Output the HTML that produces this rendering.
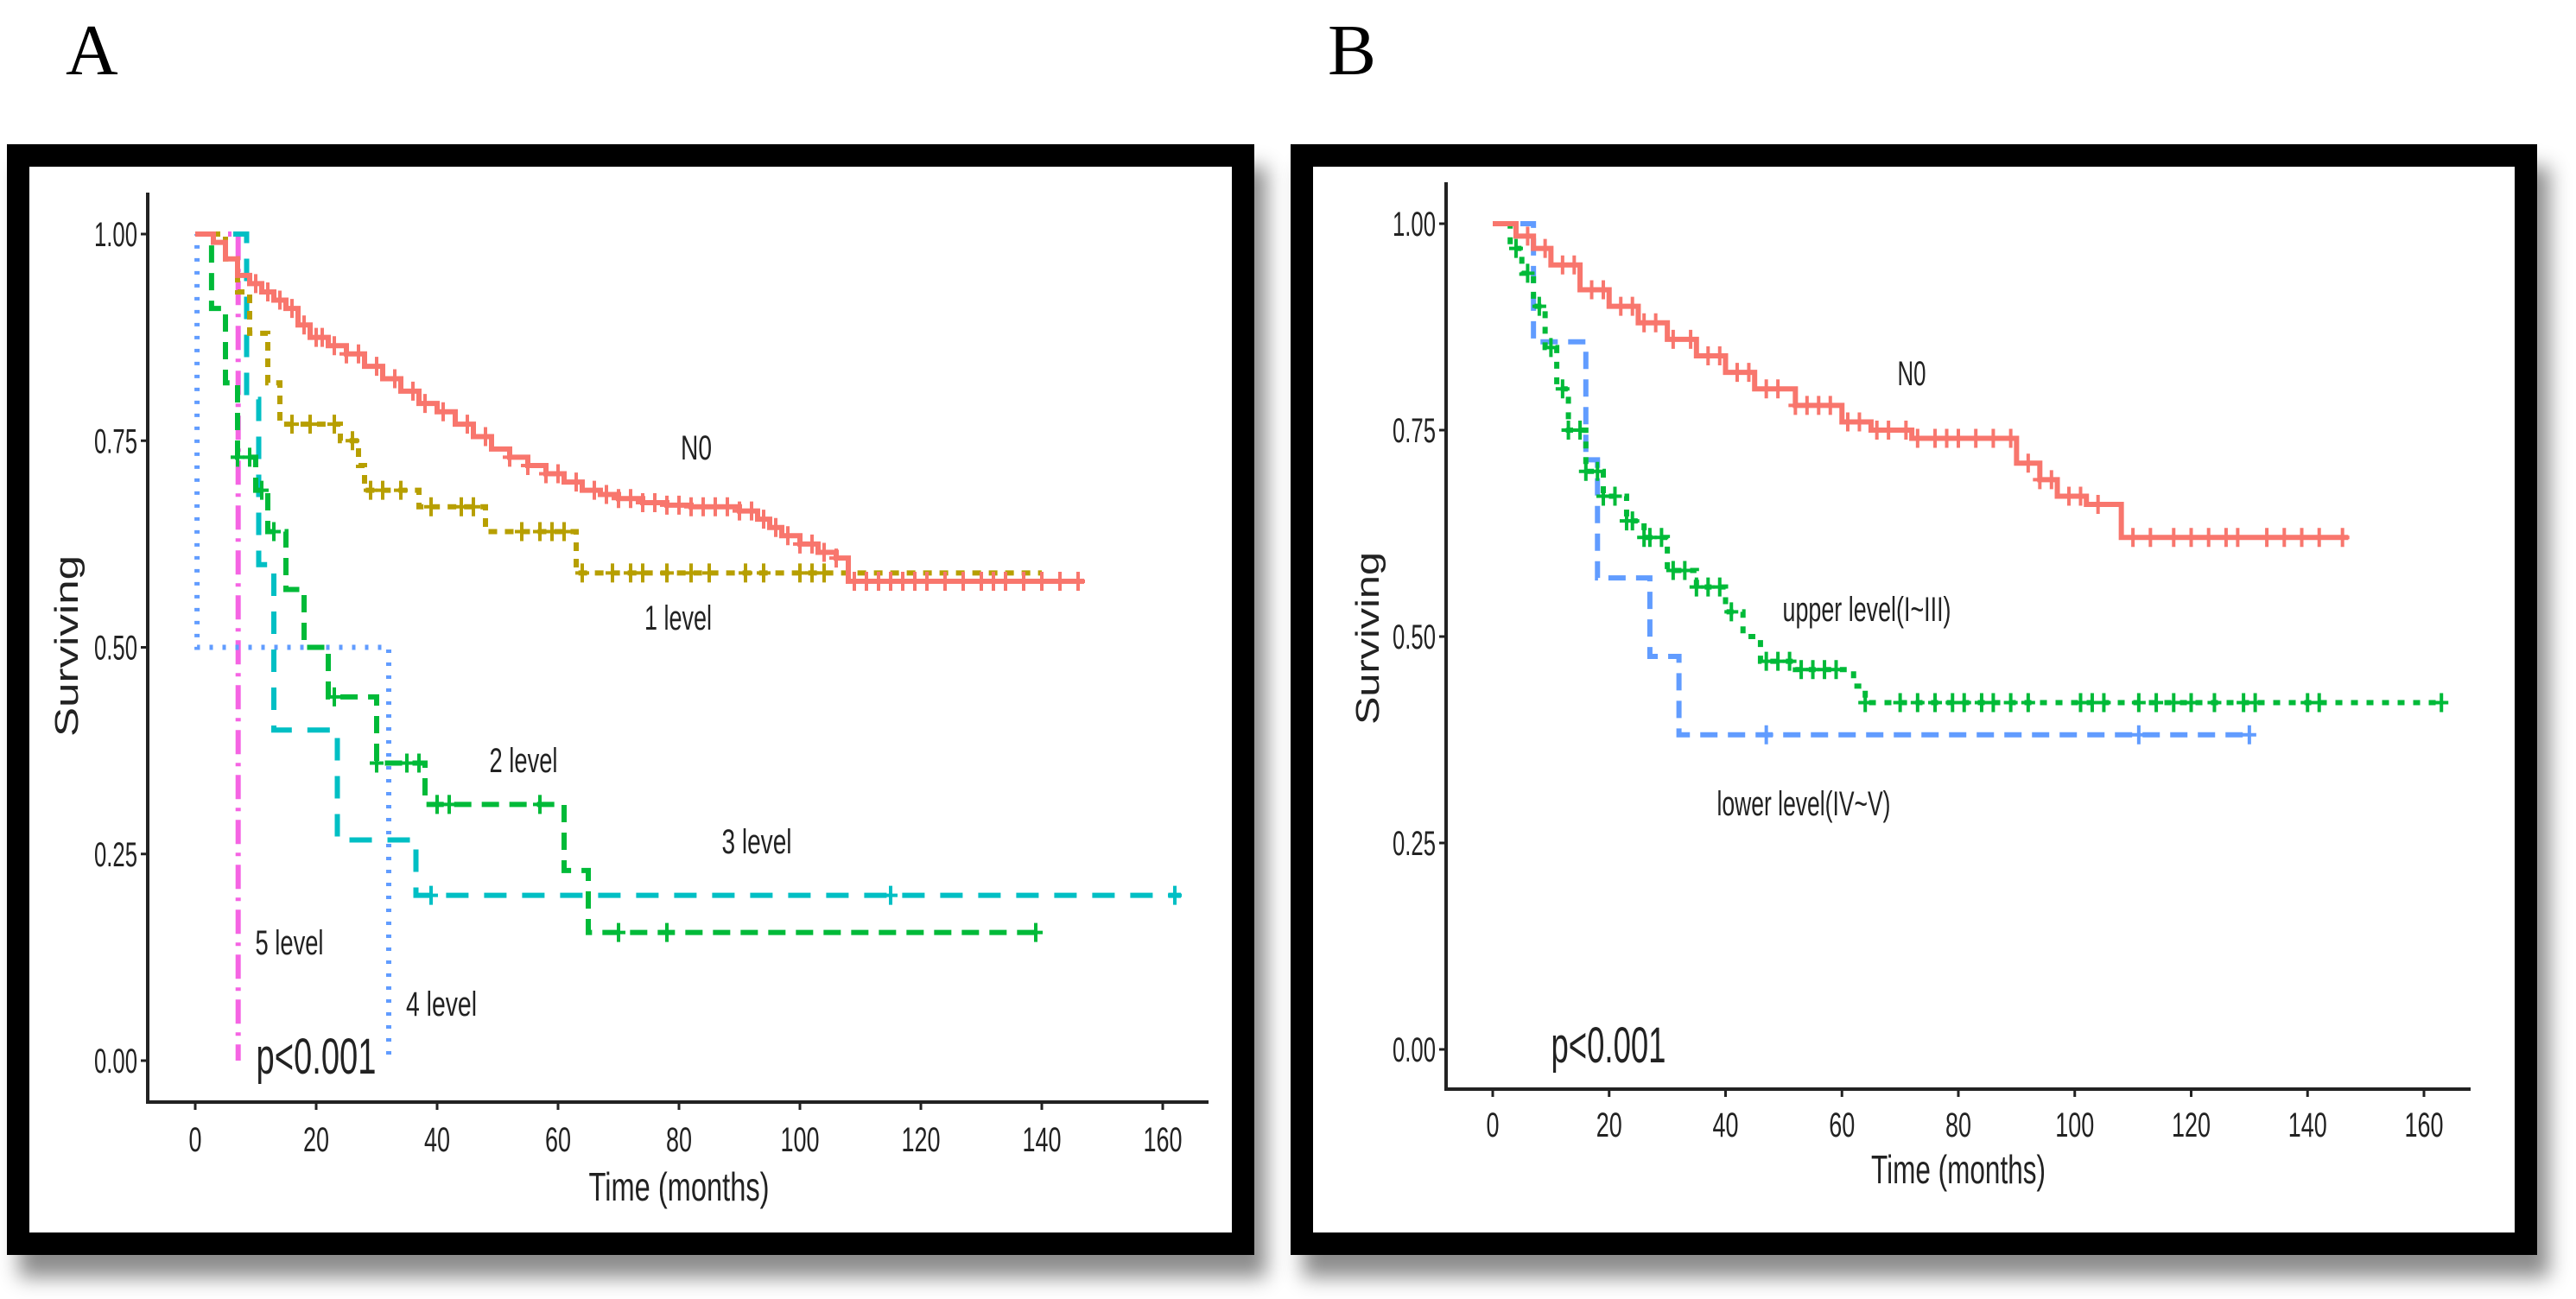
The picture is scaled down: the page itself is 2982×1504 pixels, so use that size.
<!DOCTYPE html>
<html><head><meta charset="utf-8">
<style>
html,body{margin:0;padding:0;background:#fff;width:2982px;height:1504px;overflow:hidden;}
.frame{position:absolute;box-sizing:border-box;border:26px solid #000;background:#fff;box-shadow:14px 26px 22px rgba(0,0,0,0.45);}
svg{position:absolute;left:0;top:0;}
text{font-family:"Liberation Sans",sans-serif;fill:#222;}
</style></head>
<body>
<div class="frame" style="left:8px;top:167px;width:1444px;height:1286px;"></div>
<div class="frame" style="left:1494px;top:167px;width:1443px;height:1286px;"></div>
<svg id="chart" width="2982" height="1504">
<text x="76" y="86" style="font-family:'Liberation Serif',serif;font-size:84px;fill:#000">A</text>
<text x="1537" y="86" style="font-family:'Liberation Serif',serif;font-size:84px;fill:#000">B</text>
</svg>
<script>
// ---------- Panel A data ----------
const aNoT=[0,3,5,7,9,11,13,15,17,19,22,25,28,31,34,37,40,43,46,49,52,55,58,61,64,67,70,74,78,82,86,90,93,95,97,100,103,106,108];
const aNoS=[1,0.99,0.97,0.95,0.94,0.93,0.92,0.91,0.89,0.875,0.865,0.855,0.84,0.825,0.81,0.795,0.785,0.77,0.755,0.74,0.73,0.72,0.71,0.70,0.69,0.685,0.68,0.675,0.672,0.67,0.67,0.665,0.655,0.645,0.635,0.625,0.615,0.608,0.58];
const aNoEnd=147;
const aNoC=[10,12,14,16,18,20,21,23,25,27,30,33,36,38,41,45,48,52,55,58,60,63,66,68,70,72,74,76,78,80,82,84,86,88,90,92,94,96,98,100,102,104,106,109,111,113,115,117,119,121,124,127,130,132,134,137,140,143,146];
const a1T=[0,5,7,9,12,14,16,24,27,28,37,48,63];
const a1S=[1,0.97,0.93,0.88,0.82,0.77,0.77,0.75,0.72,0.69,0.67,0.64,0.59];
const a1End=140;
const a1C=[16,19,23,26,29,31,34,39,44,46,54,57,59,61,64,69,72,74,78,82,85,91,94,100,102,104];
const a2T=[0,2.7,5,7,10,12,15,18,22,30,38,61,65];
const a2S=[1,0.91,0.82,0.73,0.69,0.64,0.57,0.50,0.44,0.36,0.31,0.23,0.155];
const a2End=140;
const a2C=[7,9,11,13,23,30,35,37,40,42,57,70,78,139];
const a3T=[0,8.5,10.5,13,23.5,36.5];
const a3S=[1,0.8,0.6,0.4,0.267,0.2];
const a3End=163;
const a3C=[39,115,162];
const a4T=[0,0.3,32];
const a4S=[1,0.5,0];
const a4End=32;
const a5T=[0,7.1];
const a5S=[1,0];
const a5End=7.1;
// ---------- Panel B data ----------
const bNoT=[0,4,7,10,15,20,25,30,35,40,45,52,60,65,72,88,90,94,97,102,108];
const bNoS=[1,0.985,0.97,0.95,0.92,0.90,0.88,0.86,0.84,0.82,0.80,0.78,0.76,0.75,0.74,0.74,0.71,0.69,0.67,0.66,0.62];
const bNoEnd=147;
const bNoC=[6,9,12,14,17,19,22,24,26,28,31,34,37,39,42,44,47,49,52,54,56,58,61,63,66,68,71,73,76,78,80,83,86,89,92,94,96,99,101,104,110,113,117,120,123,126,128,133,136,139,142,146];
const bUpT=[0,3,5,7,9,11,13,16,19,23,26,30,35,40,43,46,52,62,64];
const bUpS=[1,0.97,0.94,0.90,0.85,0.80,0.75,0.70,0.67,0.64,0.62,0.58,0.56,0.53,0.50,0.47,0.46,0.44,0.42];
const bUpEnd=163;
const bUpC=[4,6,8,10,12,13,15,16,18,19,21,23,24,26,27,29,31,33,35,37,39,41,47,49,51,53,55,57,59,64,70,73,76,79,81,84,86,89,92,101,103,105,111,114,117,120,124,129,131,140,142,163];
const bLoT=[0,7,16,18,27,32];
const bLoS=[1,0.857,0.714,0.571,0.476,0.381];
const bLoEnd=130;
const bLoC=[47,111,130];
const xTicks=[0,20,40,60,80,100,120,140,160];
const xTickLabels=["0","20","40","60","80","100","120","140","160"];
const yTicks=[0,0.25,0.5,0.75,1];
const yTickLabels=["0.00","0.25","0.50","0.75","1.00"];

const NS='http://www.w3.org/2000/svg';
const svg=document.getElementById('chart');
function mk(tag,attrs,parent){const e=document.createElementNS(NS,tag);for(const k in attrs)e.setAttribute(k,attrs[k]);(parent||svg).appendChild(e);return e;}
function txt(x,y,s,size,len,parent,anchor){const t=mk('text',{x:x,y:y,'font-size':size,'text-anchor':anchor||'middle',textLength:len,lengthAdjust:'spacingAndGlyphs'},parent);t.textContent=s;return t;}

function panel(p){
  const g=mk('g',{});
  
  
  const X=t=>p.x0+(p.x1-p.x0)*t/160;
  const Y=s=>p.y0+(p.y1-p.y0)*s;
  const ax=mk('path',{d:`M${p.ax},${p.axTop}V${p.axY}H${p.axRight}`,stroke:'#222','stroke-width':4,fill:'none'},g);
  
  
  yTicks.forEach((v,i)=>{
    mk('line',{x1:p.ax-8,x2:p.ax,y1:Y(v),y2:Y(v),stroke:'#222','stroke-width':3},g);
    const s=yTickLabels[i];
    const t=txt(p.ax-12,Y(v)+14,s,40,50,g,'end');
    
    
  });
  xTicks.forEach((v,i)=>{
    mk('line',{x1:X(v),x2:X(v),y1:p.axY,y2:p.axY+9,stroke:'#222','stroke-width':3},g);
    const s=xTickLabels[i];
    const t=txt(X(v),p.xlabY,s,40,s.length*15,g);
    
    
  });
  const xt=txt((p.x0+p.x1)/2,p.xtitleY,'Time (months)',46,p.xtitleW,g);
  
  
  const yt=mk('text',{x:0,y:0,'font-size':38,'text-anchor':'middle',textLength:p.ytitleW,lengthAdjust:'spacingAndGlyphs',transform:`translate(${p.ytitleX},${p.ytitleY}) rotate(-90)`},g);
  yt.textContent='Surviving';
  
  
  p.series.forEach(s=>{
    let d=`M${X(s.t[0])},${Y(s.s[0])}`;
    for(let i=1;i<s.t.length;i++){d+=`H${X(s.t[i])}V${Y(s.s[i])}`;}
    d+=`H${X(s.end)}`;
    const path=mk('path',{d:d,stroke:s.color,'stroke-width':6,fill:'none','stroke-dasharray':s.dash},g);
    
    
    (s.c||[]).forEach(ct=>{
      let v=s.s[0];for(let i=0;i<s.t.length;i++){if(s.t[i]<=ct)v=s.s[i];}
      const cx=X(ct),cy=Y(v);
      const m=mk('path',{d:`M${cx},${cy-11}V${cy+11}M${cx-8},${cy}H${cx+8}`,stroke:s.color,'stroke-width':4},g);
      
      
    });
  });
  p.labels.forEach(l=>{
    const t=txt(l.x,l.y,l.s,l.size||40,l.w,g);
    
    
  });
}

panel({name:'panel-a-chart',x0:226,x1:1346,y0:1228,y1:271,ax:171,axTop:223,axY:1276,axRight:1399,xlabY:1333,xtitleY:1390,xtitleW:209,ytitleX:90,ytitleY:748,ytitleW:210,
  series:[
    {name:'series-5-level',t:a5T,s:a5S,end:a5End,color:'#F564E3',dash:'28 10 4 10'},
    {name:'series-4-level',t:a4T,s:a4S,end:a4End,color:'#619CFF',dash:'4 11'},
    {name:'series-3-level',t:a3T,s:a3S,end:a3End,color:'#00BFC4',dash:'26 18',c:a3C},
    {name:'series-2-level',t:a2T,s:a2S,end:a2End,color:'#00BA38',dash:'20 12',c:a2C},
    {name:'series-1-level',t:a1T,s:a1S,end:a1End,color:'#B79F00',dash:'10 9',c:a1C},
    {name:'series-n0',t:aNoT,s:aNoS,end:aNoEnd,color:'#F8766D',dash:'none',c:aNoC}],
  labels:[
    {s:'N0',x:806,y:532,w:36,name:'label-n0'},
    {s:'1 level',x:785,y:729,w:78,name:'label-1-level'},
    {s:'2 level',x:606,y:894,w:79,name:'label-2-level'},
    {s:'3 level',x:876,y:988,w:81,name:'label-3-level'},
    {s:'5 level',x:335,y:1105,w:79,name:'label-5-level'},
    {s:'4 level',x:511,y:1176,w:82,name:'label-4-level'},
    {s:'p<0.001',x:366,y:1243,w:139,size:58,name:'p-value'}]
});

panel({name:'panel-b-chart',x0:1728,x1:2806,y0:1215,y1:259,ax:1674,axTop:211,axY:1261,axRight:2860,xlabY:1316,xtitleY:1370,xtitleW:202,ytitleX:1596,ytitleY:739,ytitleW:200,
  series:[
    {name:'series-lower-level',t:bLoT,s:bLoS,end:bLoEnd,color:'#619CFF',dash:'20 12',c:bLoC},
    {name:'series-upper-level',t:bUpT,s:bUpS,end:bUpEnd,color:'#00BA38',dash:'8 10',c:bUpC},
    {name:'series-n0',t:bNoT,s:bNoS,end:bNoEnd,color:'#F8766D',dash:'none',c:bNoC}],
  labels:[
    {s:'N0',x:2213,y:446,w:33,name:'label-n0'},
    {s:'upper level(I~III)',x:2161,y:719,w:195,name:'label-upper-level'},
    {s:'lower level(IV~V)',x:2088,y:944,w:201,name:'label-lower-level'},
    {s:'p<0.001',x:1862,y:1230,w:133,size:58,name:'p-value'}]
});
</script>
</body></html>
